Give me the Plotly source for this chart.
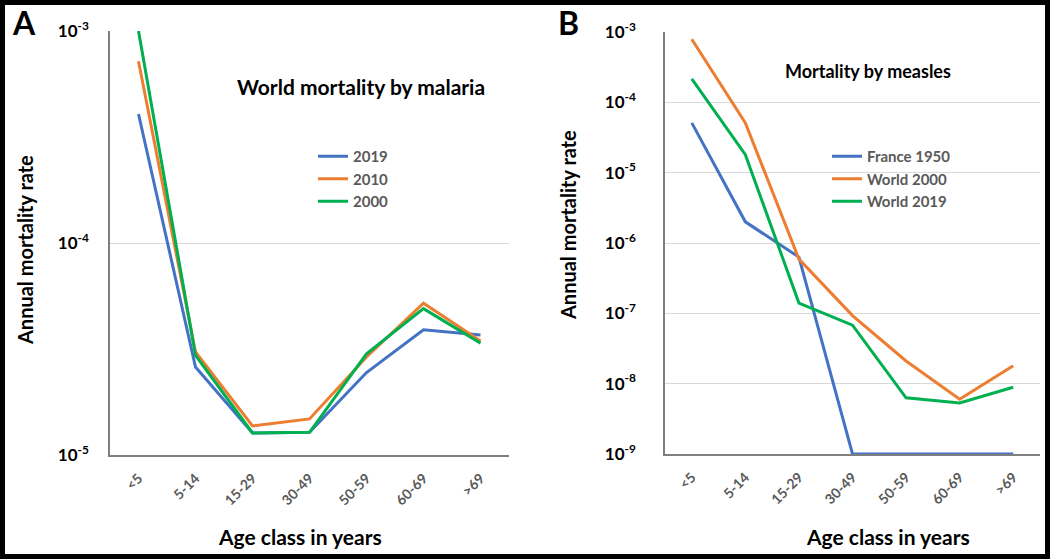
import math
import plotly.graph_objects as go

ages = ["<5", "5-14", "15-29", "30-49", "50-59", "60-69", ">69"]

malaria_2019 = [4.06e-4, 2.6e-5, 1.27e-5, 1.28e-5, 2.45e-5, 3.9e-5, 3.68e-5]
malaria_2010 = [7.2e-4, 3.06e-5, 1.37e-5, 1.48e-5, 2.9e-5, 5.2e-5, 3.45e-5]
malaria_2000 = [1.0e-3, 2.95e-5, 1.27e-5, 1.28e-5, 3.0e-5, 4.9e-5, 3.37e-5]

measles_france1950 = [5.1e-5, 2.0e-6, 6.3e-7, 1e-9, 1e-9, 1e-9, 1e-9]
measles_world2000 = [7.9e-4, 5.1e-5, 5.9e-7, 9.3e-8, 2.1e-8, 6.0e-9, 1.8e-8]
measles_world2019 = [2.15e-4, 1.8e-5, 1.4e-7, 6.8e-8, 6.3e-9, 5.3e-9, 8.9e-9]

yticks_a = [1e-5, 1e-4, 1e-3]
yticks_b = [1e-9, 1e-8, 1e-7, 1e-6, 1e-5, 1e-4, 1e-3]

BLUE = "#4472C4"
ORANGE = "#ED7D31"
GREEN = "#00B050"
FONT = "Lato"
GRAY = "#595959"


def sup(v):
    e = int(round(math.log10(v)))
    return "10<sup>%d</sup>" % e


fig = go.Figure()
for name, vals, col in [("2019", malaria_2019, BLUE), ("2010", malaria_2010, ORANGE), ("2000", malaria_2000, GREEN)]:
    fig.add_trace(go.Scatter(x=ages, y=vals, name=name, mode="lines",
                             line=dict(color=col, width=3), xaxis="x", yaxis="y",
                             legend="legend"))
for name, vals, col in [("France 1950", measles_france1950, BLUE), ("World 2000", measles_world2000, ORANGE), ("World 2019", measles_world2019, GREEN)]:
    fig.add_trace(go.Scatter(x=ages, y=vals, name=name, mode="lines",
                             line=dict(color=col, width=3), xaxis="x2", yaxis="y2",
                             legend="legend2"))

W, H = 1050, 559
def px(x): return x / W
def py(y): return 1 - y / H

xa_common = dict(type="category", showgrid=False, showline=True, linecolor="#7f7f7f", linewidth=1.5,
                 tickangle=-45, ticks="", tickfont=dict(family=FONT, size=14, color=GRAY, weight="bold"),
                 ticklabelstandoff=8, zeroline=False, automargin=False)
ya_common = dict(type="log", showgrid=True, gridcolor="#d9d9d9", gridwidth=1, showline=True,
                 linecolor="#7f7f7f", linewidth=1.5, ticks="",
                 tickfont=dict(family=FONT, size=17, color="black", weight="bold"), zeroline=False,
                 automargin=False)

fig.update_layout(
    template="none",
    width=W, height=H,
    margin=dict(l=0, r=0, t=0, b=0, autoexpand=False),
    paper_bgcolor="white", plot_bgcolor="white",
    showlegend=True,
    xaxis=dict(domain=[px(110), px(509)], anchor="y", range=[-0.5, 6.5], **xa_common),
    yaxis=dict(domain=[py(455), py(31)], anchor="x", range=[-5, -3],
               tickvals=yticks_a, ticktext=[sup(v) for v in yticks_a], ticklabelstandoff=16, **ya_common),
    xaxis2=dict(domain=[px(665), px(1040)], anchor="y2", range=[-0.5, 6.5], **xa_common),
    yaxis2=dict(domain=[py(454), py(32)], anchor="x2", range=[-9, -3],
                tickvals=yticks_b, ticktext=[sup(v) for v in yticks_b], ticklabelstandoff=24, **ya_common),
    legend=dict(x=px(313), y=py(140), xanchor="left", yanchor="top", bgcolor="rgba(0,0,0,0)",
                font=dict(family=FONT, size=15, color=GRAY, weight="bold"), tracegroupgap=0,
                itemwidth=30, borderwidth=0),
    legend2=dict(x=px(827), y=py(140), xanchor="left", yanchor="top", bgcolor="rgba(0,0,0,0)",
                 font=dict(family=FONT, size=15, color=GRAY, weight="bold"), tracegroupgap=0,
                 itemwidth=30, borderwidth=0),
)

ann_font = dict(family=FONT, color="black", weight="bold")
annotations = [
    dict(text="A", x=px(10), y=py(22), xanchor="left", yanchor="middle", font=dict(size=32, **ann_font)),
    dict(text="B", x=px(556), y=py(22), xanchor="left", yanchor="middle", font=dict(size=32, **ann_font)),
    dict(text="World mortality by malaria", x=px(361), y=py(86), xanchor="center", yanchor="middle",
         font=dict(size=21, **ann_font)),
    dict(text="Mortality by measles", x=px(868), y=py(71), xanchor="center", yanchor="middle",
         font=dict(size=18, **ann_font)),
    dict(text="Annual mortality rate", x=px(25), y=py(250), xanchor="center", yanchor="middle", textangle=-90,
         font=dict(size=20, **ann_font)),
    dict(text="Annual mortality rate", x=px(568), y=py(225), xanchor="center", yanchor="middle", textangle=-90,
         font=dict(size=20, **ann_font)),
    dict(text="Age class in years", x=px(300), y=py(536), xanchor="center", yanchor="middle",
         font=dict(size=21, **ann_font)),
    dict(text="Age class in years", x=px(888), y=py(536), xanchor="center", yanchor="middle",
         font=dict(size=21, **ann_font)),
]
for a in annotations:
    a.update(xref="paper", yref="paper", showarrow=False)
fig.update_layout(annotations=annotations)

fig.add_shape(type="rect", xref="paper", yref="paper", x0=px(2.5), x1=px(W - 2.5), y0=py(H - 2.5), y1=py(2.5),
              line=dict(color="black", width=5), fillcolor="rgba(0,0,0,0)", layer="above")

fig.write_html("out.html", config={"displayModeBar": False},
               post_script="document.body.style.margin='0';document.body.style.overflow='hidden';")
